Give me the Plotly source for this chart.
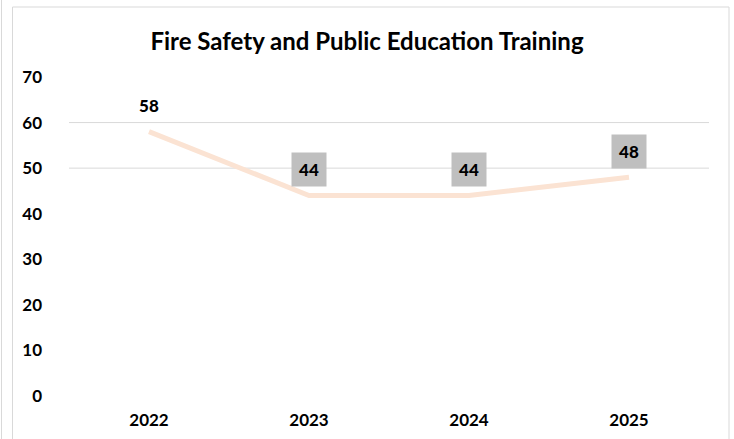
import plotly.graph_objects as go

years = ["2022", "2023", "2024", "2025"]
trainings = [58, 44, 44, 48]
label_boxed = [False, True, True, True]
grid_values = [50, 60]

W, H = 734, 439
ml, mr, mt, mb = 69, 25, 77, 43
pw, ph = W - ml - mr, H - mt - mb

font_family = "Lato, 'Open Sans', sans-serif"

fig = go.Figure()

fig.add_trace(go.Scatter(
    x=years, y=trainings, mode="lines",
    line=dict(color="#FBE3D3", width=5),
    hoverinfo="x+y",
))

# data labels (category axis -> annotation x is the category index)
for i, (v, boxed) in enumerate(zip(trainings, label_boxed)):
    fig.add_annotation(
        x=i, y=v, text=str(v), showarrow=False,
        yshift=26,
        font=dict(size=17, color="black", family=font_family, weight=900),
        bgcolor="#BFBFBF" if boxed else "rgba(0,0,0,0)",
        width=32, height=31,
    )

# the two visible gridlines
for g in grid_values:
    fig.add_shape(type="line", xref="paper", x0=0, x1=1, yref="y", y0=g, y1=g,
                  line=dict(color="#D9D9D9", width=1), layer="below")

# chart frame
fig.add_shape(type="rect", xref="paper", yref="paper",
              x0=(12.5 - ml) / pw, x1=(729 - ml) / pw,
              y0=(H - mb - 445) / ph, y1=(H - mb - 7) / ph,
              line=dict(color="#D9D9D9", width=1), layer="below")
fig.add_shape(type="line", xref="paper", yref="paper",
              x0=(1.5 - ml) / pw, x1=(1.5 - ml) / pw,
              y0=(H - mb - 445) / ph, y1=(H - mb - 0) / ph,
              line=dict(color="#D9D9D9", width=1), layer="below")

fig.update_layout(
    width=W, height=H,
    margin=dict(l=ml, r=mr, t=mt, b=mb, autoexpand=False),
    paper_bgcolor="white", plot_bgcolor="white",
    showlegend=False,
    font=dict(family=font_family, color="black"),
    title=dict(text="Fire Safety and Public Education Training",
               x=0.5, xanchor="center", y=1 - 42 / H, yanchor="middle",
               font=dict(size=24, color="black", family=font_family, weight=700)),
)
fig.update_xaxes(type="category", range=[-0.5, 3.5], automargin=False,
                 showgrid=False, zeroline=False, showline=False, ticks="",
                 tickfont=dict(size=17, family=font_family, weight=700),
                 ticklabelstandoff=12)
fig.update_yaxes(range=[0, 70], dtick=10, automargin=False,
                 showgrid=False, zeroline=False, showline=False, ticks="",
                 tickfont=dict(size=17, family=font_family, weight=700),
                 ticklabelstandoff=26)

fig.write_html("out.html", config={"displayModeBar": False},
               post_script="document.body.style.margin = '0px';")
